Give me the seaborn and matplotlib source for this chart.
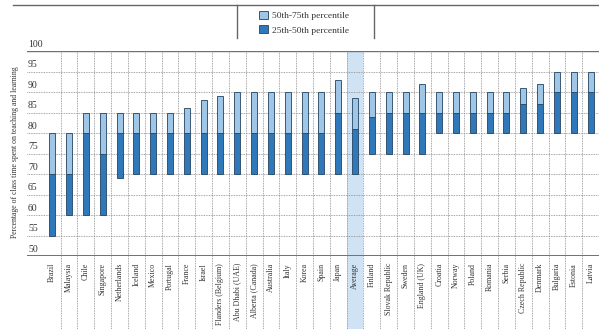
import matplotlib
matplotlib.use("Agg")
import matplotlib.pyplot as plt
import matplotlib.transforms as mtransforms
from matplotlib.lines import Line2D
from matplotlib.patches import Rectangle, Patch
import numpy as np
import pandas as pd
import seaborn as sns

countries = ["Brazil", "Malaysia", "Chile", "Singapore", "Netherlands", "Iceland",
             "Mexico", "Portugal", "France", "Israel", "Flanders (Belgium)",
             "Abu Dhabi (UAE)", "Alberta (Canada)", "Australia", "Italy", "Korea",
             "Spain", "Japan", "Average", "Finland", "Slovak Republic", "Sweden",
             "England (UK)", "Croatia", "Norway", "Poland", "Romania", "Serbia",
             "Czech Republic", "Denmark", "Bulgaria", "Estonia", "Latvia"]
p25 = [55, 60, 60, 60, 69, 70, 70, 70, 70, 70, 70, 70, 70, 70, 70, 70, 70, 70,
       70, 75, 75, 75, 75, 80, 80, 80, 80, 80, 80, 80, 80, 80, 80]
p50 = [70, 70, 80, 75, 80, 80, 80, 80, 80, 80, 80, 80, 80, 80, 80, 80, 80, 85,
       81, 84, 85, 85, 85, 85, 85, 85, 85, 85, 87, 87, 90, 90, 90]
p75 = [80, 80, 85, 85, 85, 85, 85, 85, 86, 88, 89, 90, 90, 90, 90, 90, 90, 93,
       88.5, 90, 90, 90, 92, 90, 90, 90, 90, 90, 91, 92, 95, 95, 95]
y_ticks = [50, 55, 60, 65, 70, 75, 80, 85, 90, 95, 100]

LIGHT = "#9fc5e7"
DARK = "#2f78ba"
EDGE = "#24435f"
GRID = "#8a8a8a"
TXT = "#333333"

df = pd.DataFrame({"country": countries, "p25": p25, "p50": p50, "p75": p75})
df["low_span"] = df["p50"] - df["p25"]
df["high_span"] = df["p75"] - df["p50"]

plt.rcParams["font.family"] = ["Liberation Serif", "DejaVu Serif"]

fig = plt.figure(figsize=(5.99, 3.29), dpi=100)
ax = fig.add_axes([27 / 599, 1 - 256 / 329, 572 / 599, 205 / 329])

n = len(countries)
blend = mtransforms.blended_transform_factory(ax.transData, ax.transAxes)

# shaded column behind the international average, running down through the label area
ax.add_patch(Rectangle((countries.index("Average") - 0.5, -0.36), 1, 1.36,
                       transform=blend, facecolor="#cfe3f4", edgecolor="none",
                       clip_on=False, zorder=0))

# dotted grid
for v in y_ticks[1:-1]:
    ax.axhline(v, color=GRID, lw=0.6, ls=(0, (1, 1)), zorder=1)
for i in range(n - 1):
    ax.plot([i + 0.5, i + 0.5], [-0.36, 1.0], transform=blend, color=GRID,
            lw=0.6, ls=(0, (1, 1)), clip_on=False, zorder=1)
ax.axhline(100, color="#707070", lw=1.0, zorder=2)
ax.axhline(50, color="#707070", lw=1.4, zorder=2)

# floating percentile bars
sns.barplot(data=df, x="country", y="low_span", bottom=df["p25"].to_numpy(),
            color=DARK, saturation=1, width=0.36, edgecolor=EDGE, linewidth=0.6,
            ax=ax, zorder=3)
sns.barplot(data=df, x="country", y="high_span", bottom=df["p50"].to_numpy(),
            color=LIGHT, saturation=1, width=0.36, edgecolor=EDGE, linewidth=0.6,
            ax=ax, zorder=3)

ax.set_xlim(-1.5, n - 0.5)
ax.set_ylim(50, 100)
for s in ax.spines.values():
    s.set_visible(False)
ax.set_yticks([])
ax.set_xlabel("")
ax.set_ylabel("")
ax.set_xticks(range(n))
ax.set_xticklabels(countries, rotation=90, fontsize=5.7, color=TXT, va="top", ha="center")
ax.tick_params(axis="x", length=0, pad=5)

for v in y_ticks:
    ax.text(-1.44, v + 0.6, str(v), fontsize=7, color=TXT, ha="left", va="bottom")

fig.text(15 / 599, 1 - 152 / 329,
         "Percentage of class time spent on teaching and learning",
         rotation=90, fontsize=5.6, color=TXT, ha="center", va="center")

# legend panel under the header rule
fig.add_artist(Line2D([13 / 599, 1.0], [1 - 5 / 329] * 2, color="#666666", lw=1.0))
for xp in (237, 374):
    fig.add_artist(Line2D([xp / 599] * 2, [1 - 5 / 329, 1 - 38 / 329],
                          color="#666666", lw=1.0))
handles = [Patch(facecolor=LIGHT, edgecolor=EDGE, linewidth=0.6, label="50th-75th percentile"),
           Patch(facecolor=DARK, edgecolor=EDGE, linewidth=0.6, label="25th-50th percentile")]
fig.legend(handles=handles, loc="upper left", bbox_to_anchor=(259 / 599, 1 - 11 / 329),
           frameon=False, fontsize=6.8, handlelength=0.9, handleheight=0.9,
           handletextpad=0.45, labelspacing=0.55, borderaxespad=0, borderpad=0,
           labelcolor=TXT)

fig.savefig("out.png", dpi=100)
